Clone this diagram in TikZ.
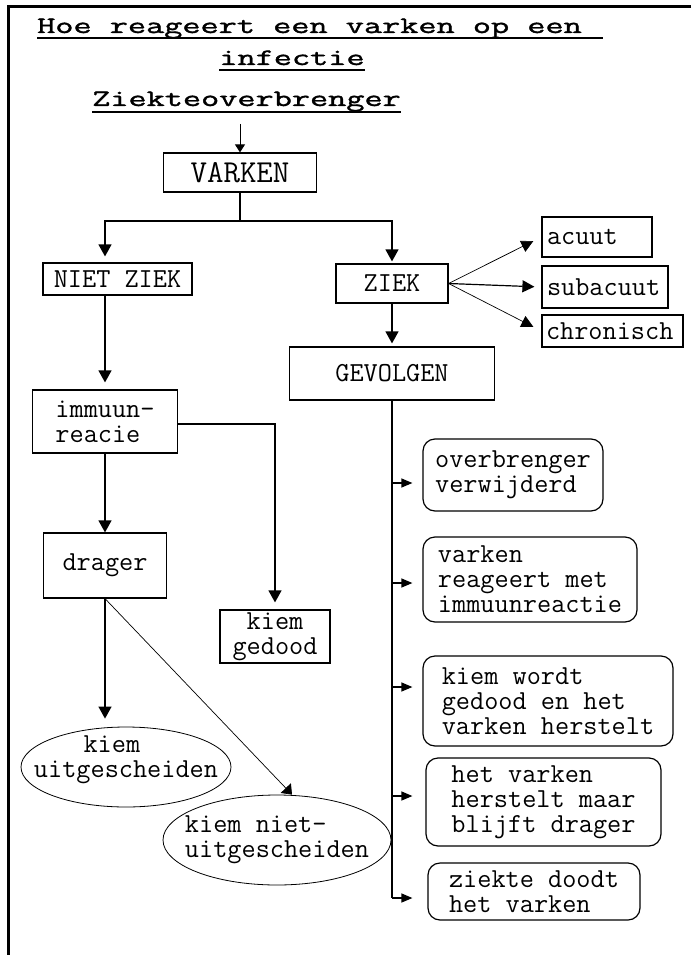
\documentclass[tikz,border=0pt]{standalone}
\usepackage{fontspec}
\usetikzlibrary{arrows.meta,shapes.geometric}
\newfontfamily\bodyfont{Latin Modern Mono}
\newfontfamily\titlefont[FakeStretch=1.5,FakeBold=1.6]{Latin Modern Mono}

\begin{document}
\begin{tikzpicture}[
x=1pt, y=-1pt,
heading/.style={font=\titlefont\fontsize{23.5}{25}\selectfont, inner sep=0pt},
uline/.style={line width=1.4pt},
box/.style={draw=black, line width=1.2pt, font=\bodyfont\fontsize{27.5}{25}\selectfont, inner sep=0pt, align=center},
lbox/.style={box, align=left, inner xsep=5pt},
rbox/.style={box, rounded corners=12pt, align=left},
ell/.style={draw=black, ellipse, line width=0.8pt, inner sep=0pt},
lbl/.style={font=\bodyfont\fontsize{27.5}{25}\selectfont, inner sep=0pt},
bigarrow/.style={-{Triangle[length=12pt,width=13pt]}, line width=1.2pt},
smallarrow/.style={-{Triangle[length=8pt,width=10pt]}, line width=1pt},
sidearrow/.style={-{Triangle[length=12pt,width=12pt]}},
twigarrow/.style={-{Triangle[length=11pt,width=9pt]}, line width=1.2pt},
thinarrow/.style={-{Triangle[length=9pt,width=14pt]}, line width=0.7pt}
]
\useasboundingbox (0,0) rectangle (691,955);
%Frame
\draw[line width=3pt] (691,7) -- (8,7) -- (8,955);
%Title
\node[heading, anchor=base west] (t1) at (37,33)  {Hoe reageert een varken op een};
\node[heading, anchor=base]      (t2) at (292,65) {infectie};
\node[heading, anchor=base west] (zo) at (92,106) {Ziekteoverbrenger};
\draw[uline] ([yshift=-5pt]t1.base west) -- ([xshift=21pt,yshift=-5pt]t1.base east);
\draw[uline] ([yshift=-5pt]t2.base west) -- ([yshift=-5pt]t2.base east);
\draw[uline] ([yshift=-6pt]zo.base west) -- ([yshift=-6pt]zo.base east);
%Nodes
\node[box, minimum width=153pt, minimum height=39pt, font=\bodyfont\fontsize{32}{32}\selectfont] (v) at (240,172.5) {VARKEN};
\node[box, minimum width=149pt, minimum height=32pt] (nz) at (117.5,279) {NIET ZIEK};
\node[box, minimum width=112pt, minimum height=39pt] (zk) at (392,283.5) {ZIEK};
\node[lbox, text width=100pt, minimum height=40pt] (ac) at (597,237)   {acuut};
\node[lbox, text width=116pt, minimum height=42pt] (sa) at (605,287)   {subacuut};
\node[lbox, text width=133pt, inner xsep=4pt, minimum height=32pt] (ch) at (612.5,331) {chronisch};
\node[box, minimum width=205pt, minimum height=53pt] (gv) at (392,373.5) {GEVOLGEN};
\node[box, align=left, minimum width=145pt, minimum height=63pt] (im) at (105,421.5) {immuun-\\reacie};
\node[box, minimum width=123pt, minimum height=65pt] (dr) at (105,565.5) {drager};
\node[box, minimum width=110pt, minimum height=53pt] (kg) at (275,636.5) {kiem\\gedood};
\node[ell, minimum width=210pt, minimum height=80pt,
      label={[lbl, align=center, yshift=7pt]center:{kiem\phantom{xx}\\uitgescheiden}}] (ku) at (126,767) {};
\node[ell, minimum width=228pt, minimum height=90pt,
      label={[lbl, align=left]center:{kiem niet-\\uitgescheiden}}] (kn) at (277,840) {};
\node[rbox, minimum width=180pt, minimum height=72pt] (r1) at (513,475)   {overbrenger\\verwijderd};
\node[rbox, minimum width=214pt, minimum height=85pt] (r2) at (530,579.5) {varken\\reageert met\\immuunreactie};
\node[rbox, minimum width=250pt, minimum height=90pt] (r3) at (548,701)   {kiem wordt\\gedood en het\\varken herstelt};
\node[rbox, minimum width=235pt, minimum height=88pt] (r4) at (543.5,802) {het varken\\herstelt maar\\blijft drager};
\node[rbox, minimum width=212pt, minimum height=57pt] (r5) at (534,891.5) {ziekte doodt\\het varken};
\coordinate (zoend) at (240,124);
\coordinate (split) at (240,221);
%Lines
\draw[smallarrow] (zoend) -- (v);
\draw[line width=1.2pt] (v) -- (split);
\draw[bigarrow, shorten >=6pt] (split) -| (nz.north -| im);
\draw[bigarrow, shorten >=2pt] (split) -| (zk);
\draw[sidearrow, line width=0.7pt, shorten >=9pt] (zk.east) -- (ac.west);
\draw[sidearrow, line width=1.2pt, shorten >=7pt] (zk.east) -- (sa.west);
\draw[sidearrow, line width=0.7pt, shorten >=9pt] (zk.east) -- (ch.west);
\draw[bigarrow, shorten >=3pt] (zk) -- (gv);
\draw[bigarrow, shorten >=7pt] (nz.south -| im) -- (im);
\draw[bigarrow] (im) -- (dr);
\draw[bigarrow, shorten >=7pt] ([yshift=-2.5pt]im.east) -| (kg);
\draw[bigarrow, shorten >=8pt] (dr) -- (dr.south |- ku.north);
\draw[thinarrow] (dr.south) -- ([xshift=15pt]kn.north);
\draw[line width=1.2pt] (gv) -- ([yshift=-6.5pt]r5.west -| gv.south);
\draw[twigarrow, shorten >=10pt] ([yshift=-8pt]r1.west -| gv.south) -- ([yshift=-8pt]r1.west);
\draw[twigarrow, shorten >=10pt] ([yshift=-3.5pt]r2.west -| gv.south) -- ([yshift=-3.5pt]r2.west);
\draw[twigarrow, shorten >=10pt] ([yshift=14pt]r3.west -| gv.south) -- ([yshift=14pt]r3.west);
\draw[twigarrow, shorten >=13pt] ([yshift=6pt]r4.west -| gv.south) -- ([yshift=6pt]r4.west);
\draw[twigarrow, shorten >=15pt] ([yshift=-6.5pt]r5.west -| gv.south) -- ([yshift=-6.5pt]r5.west);
\end{tikzpicture}
\end{document}
